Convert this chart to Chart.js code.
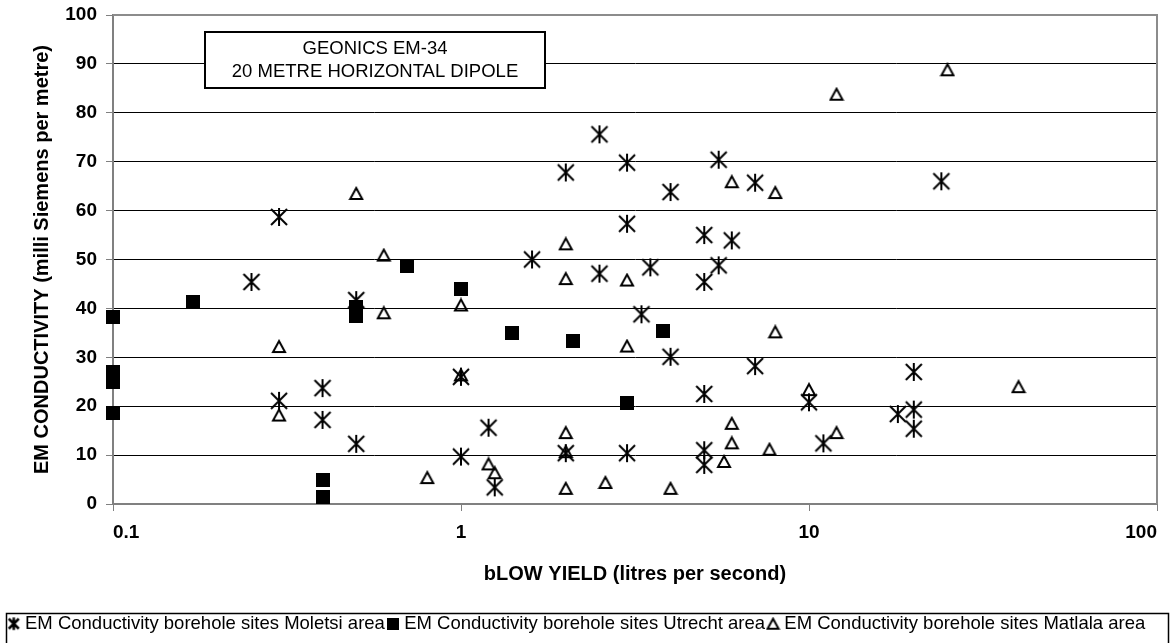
<!DOCTYPE html>
<html>
<head>
<meta charset="utf-8">
<script src="https://cdn.jsdelivr.net/npm/chart.js@4"></script>
<style>
  html, body { margin: 0; padding: 0; background: #fff; }
  #wrap { width: 1174px; height: 643px; }
</style>
</head>
<body>
<div id="wrap"><canvas id="emChart"></canvas></div>
<script>
// Yield (l/s) and EM conductivity (mS/m)
const moletsiYield = [0.25, 0.3, 0.3, 0.4, 0.4, 0.5, 0.5, 1, 1, 1.2, 1.25, 1.6, 2, 2, 2.5, 2.5, 3, 3, 3, 3.3, 3.5, 4, 4, 5, 5, 5, 5, 5, 5.5, 5.5, 6, 7, 7, 10, 11, 18, 20, 20, 20, 24];
const moletsiCond  = [45.4, 58.7, 21.1, 23.7, 17.2, 41.7, 12.3, 26, 9.7, 15.6, 3.4, 50, 67.8, 10.4, 75.6, 47.1, 69.8, 57.3, 10.4, 38.8, 48.4, 63.8, 30.1, 55, 45.4, 22.5, 11, 8, 70.4, 48.8, 53.9, 65.7, 28.2, 20.8, 12.4, 18.4, 27, 19.3, 15.4, 66];

const utrechtYield = [0.1, 0.1, 0.1, 0.1, 0.17, 0.4, 0.4, 0.5, 0.5, 0.7, 1, 1.4, 2.1, 3, 3.8];
const utrechtCond  = [38.3, 27, 25, 18.7, 41.3, 4.9, 1.5, 40.3, 38.5, 48.6, 43.9, 34.9, 33.3, 20.6, 35.4];

const matlalaYield = [0.3, 0.3, 0.5, 0.6, 0.6, 0.8, 1, 1, 1.2, 1.25, 2, 2, 2, 2, 2, 2.6, 3, 3, 4, 5.7, 6, 6, 6, 7.7, 8, 8, 10, 12, 12, 25, 40];
const matlalaCond  = [32.2, 18.2, 63.5, 50.9, 39.1, 5.4, 40.7, 26.4, 8.2, 6.4, 53.2, 46.1, 14.6, 10.7, 3.2, 4.4, 45.8, 32.3, 3.2, 8.7, 65.9, 16.5, 12.5, 11.2, 63.7, 35.2, 23.4, 83.8, 14.6, 88.8, 24];

const seriesNames = [
    'EM Conductivity borehole sites Moletsi area',
    'EM Conductivity borehole sites Utrecht area',
    'EM Conductivity borehole sites Matlala area'
];
const xTickValues = [0.1, 1, 10, 100];
const boxLines = ['GEONICS EM-34', '20 METRE HORIZONTAL DIPOLE'];

const FONT = '"Liberation Sans", Arial, sans-serif';

function toPoints(xs, ys) {
    return xs.map((x, i) => ({ x: x, y: ys[i] }));
}

// marker images
function makeAsterisk(size, lw) {
    const c = document.createElement('canvas');
    const p = lw;
    c.width = size + p * 2; c.height = size + p * 2;
    const g = c.getContext('2d');
    g.strokeStyle = '#000'; g.lineWidth = lw;
    g.beginPath();
    g.moveTo(p, p); g.lineTo(p + size, p + size);
    g.moveTo(p + size, p); g.lineTo(p, p + size);
    g.moveTo(p + size / 2, p - lw / 2); g.lineTo(p + size / 2, p + size + lw / 2);
    g.stroke();
    return c;
}

function makeSquare(size) {
    const c = document.createElement('canvas');
    c.width = size; c.height = size;
    const g = c.getContext('2d');
    g.fillStyle = '#000';
    g.fillRect(0, 0, size, size);
    return c;
}

function makeTriangle(w, h, lw) {
    const c = document.createElement('canvas');
    c.width = w + lw * 2; c.height = h + lw * 2;
    const g = c.getContext('2d');
    g.strokeStyle = '#000'; g.lineWidth = lw; g.lineJoin = 'miter';
    g.beginPath();
    g.moveTo(lw + w / 2, lw);
    g.lineTo(lw + w, lw + h);
    g.lineTo(lw, lw + h);
    g.closePath();
    g.stroke();
    return c;
}

const starImg = makeAsterisk(16, 2);
const squareImg = makeSquare(14);
const triImg = makeTriangle(12, 11, 2);
const legendImgs = [makeAsterisk(10, 2.5), makeSquare(12), makeTriangle(11, 10, 2)];

// title box + frame lines + legend frame
const decorPlugin = {
    id: 'decor',
    beforeDatasetsDraw(chart) {
        const ctx = chart.ctx;
        const a = chart.chartArea;
        ctx.save();
        ctx.strokeStyle = '#8c8c8c';
        ctx.lineWidth = 2;
        ctx.beginPath();
        ctx.moveTo(a.left, a.top);
        ctx.lineTo(a.right, a.top);
        ctx.lineTo(a.right, a.bottom);
        ctx.stroke();

        ctx.fillStyle = '#fff';
        ctx.fillRect(205, 32, 340, 56);
        ctx.strokeStyle = '#000';
        ctx.lineWidth = 2;
        ctx.strokeRect(205, 32, 340, 56);
        ctx.fillStyle = '#000';
        ctx.font = '18.5px ' + FONT;
        ctx.textAlign = 'center';
        ctx.textBaseline = 'middle';
        ctx.fillText(boxLines[0], 375, 49);
        ctx.fillText(boxLines[1], 375, 72);
        ctx.restore();
    },
    afterDraw(chart) {
        const ctx = chart.ctx;
        ctx.save();
        ctx.strokeStyle = '#000';
        ctx.lineWidth = 1.5;
        ctx.strokeRect(6.5, 613.5, chart.width - 12, 40);
        ctx.restore();
    }
};

const ctx = document.getElementById('emChart').getContext('2d');
new Chart(ctx, {
    type: 'scatter',
    data: {
        datasets: [
            { label: seriesNames[0], data: toPoints(moletsiYield, moletsiCond), pointStyle: starImg, clip: false },
            { label: seriesNames[1], data: toPoints(utrechtYield, utrechtCond), pointStyle: squareImg, clip: false },
            { label: seriesNames[2], data: toPoints(matlalaYield, matlalaCond), pointStyle: triImg, clip: false }
        ]
    },
    options: {
        responsive: true,
        maintainAspectRatio: false,
        animation: false,
        layout: { padding: { left: 0, right: 17, top: 15, bottom: 0 } },
        plugins: {
            tooltip: { enabled: false },
            legend: {
                position: 'bottom',
                labels: {
                    color: '#000',
                    font: { family: FONT, size: 18.5 },
                    usePointStyle: true,
                    boxWidth: 4,
                    padding: 6,
                    generateLabels: (chart) => chart.data.datasets.map((ds, i) => ({
                        text: ds.label,
                        pointStyle: legendImgs[i],
                        fillStyle: '#000',
                        strokeStyle: '#000',
                        lineWidth: 0,
                        hidden: false,
                        datasetIndex: i
                    }))
                }
            }
        },
        scales: {
            x: {
                type: 'logarithmic',
                min: 0.1,
                max: 100,
                afterBuildTicks: (s) => { s.ticks = xTickValues.map(v => ({ value: v })); },
                afterFit: (s) => {
                    const lh = s.chart.legend ? s.chart.legend.height : 0;
                    s.height = s.chart.height - 504 - lh;
                    s.paddingLeft = 0;
                    s.paddingRight = 0;
                },
                ticks: {
                    color: '#000',
                    font: { family: FONT, size: 19, weight: 'bold' },
                    padding: 10,
                    align: 'inner',
                    maxRotation: 0,
                    autoSkip: false,
                    callback: (v) => String(v)
                },
                grid: { drawOnChartArea: false, drawTicks: true, tickLength: 7, color: '#808080', lineWidth: 1 },
                border: { color: '#808080', width: 2 },
                title: {
                    display: true,
                    text: 'bLOW YIELD (litres per second)',
                    color: '#000',
                    font: { family: FONT, size: 20, weight: 'bold' },
                    padding: { top: 4, bottom: 22 }
                }
            },
            y: {
                min: 0,
                max: 100,
                afterFit: (s) => {
                    s.width = 113;
                    s.paddingTop = 0;
                    s.paddingBottom = 0;
                },
                ticks: {
                    stepSize: 10,
                    color: '#000',
                    font: { family: FONT, size: 19, weight: 'bold' },
                    padding: 9
                },
                grid: { color: '#000', lineWidth: 1, tickLength: 7, tickColor: '#808080' },
                border: { color: '#808080', width: 2 },
                title: {
                    display: true,
                    text: 'EM CONDUCTIVITY (milli Siemens per metre)',
                    color: '#000',
                    font: { family: FONT, size: 20, weight: 'bold' },
                    padding: { top: 30, bottom: 0 }
                }
            }
        }
    },
    plugins: [decorPlugin]
});
</script>
</body>
</html>
